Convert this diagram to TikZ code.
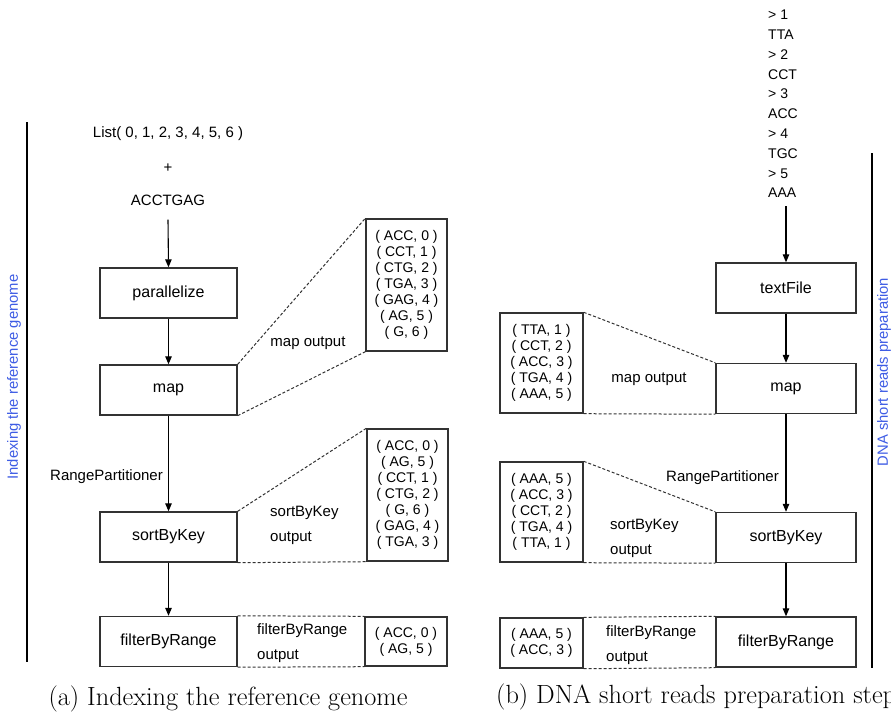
\documentclass[tikz,border=0pt]{standalone}
\usepackage{fontspec}
\newfontfamily\dia{Liberation Sans}
\usetikzlibrary{arrows.meta}
\definecolor{sideblue}{RGB}{62,92,228}
\definecolor{boxline}{RGB}{50,50,50}
\tikzset{
  stepbox/.style={draw=boxline, line width=1.4pt, minimum width=137pt, minimum height=50pt, inner sep=0pt, font=\dia\fontsize{16}{18}\selectfont},
  listbox/.style={draw=boxline, line width=1.4pt, inner sep=0pt, align=center, font=\dia\fontsize{14}{16}\selectfont},
  lbl/.style={inner sep=0pt, font=\dia\fontsize{15}{17}\selectfont},
  twolbl/.style={inner sep=0pt, align=left, anchor=west, font=\dia\fontsize{15}{24.5}\selectfont},
  arr/.style={-{Triangle[length=8pt,width=6.5pt]}, line width=1.1pt},
  dotline/.style={dash pattern=on 3pt off 2pt, line width=1pt, draw=boxline},
  side/.style={inner sep=0pt, rotate=90, text=sideblue, font=\dia\fontsize{14.8}{17}\selectfont},
  captext/.style={inner sep=0pt, font=\fontsize{26.3}{30}\selectfont}
}
\begin{document}
\begin{tikzpicture}[x=1pt,y=-1pt]
\useasboundingbox (0,0) rectangle (891,715);
% ---------- (a) ----------
\draw[line width=1.1pt] (27,122) -- (27,662);
\node[side] (sidea) at (14,377) {Indexing the reference genome};
\node[lbl] (list) at (168,134) {List( 0, 1, 2, 3, 4, 5, 6 )};
\node[lbl] (plus) at (168,168) {+};
\node[lbl] (acgt) at (168,200) {ACCTGAG};
\node[stepbox] (par) at (168.5,293) {parallelize};
\node[stepbox] (map) at (168.5,390) {map};
\node[stepbox] (sbk) at (168.5,537) {sortByKey};
\node[stepbox] (fbr) at (168.5,641.5) {filterByRange};
\node[listbox, minimum width=81pt, minimum height=132pt] (mapout) at (406.5,285)
  {( ACC, 0 )\\( CCT, 1 )\\( CTG, 2 )\\( TGA, 3 )\\( GAG, 4 )\\( AG, 5 )\\( G, 6 )};
\node[listbox, minimum width=81pt, minimum height=132pt] (sbkout) at (407.5,495)
  {( ACC, 0 )\\( AG, 5 )\\( CCT, 1 )\\( CTG, 2 )\\( G, 6 )\\( GAG, 4 )\\( TGA, 3 )};
\node[listbox, minimum width=82pt, minimum height=49pt] (fbrout) at (406,641.5)
  {( ACC, 0 )\\( AG, 5 )};
\node[lbl] (mapoutl) at (308,343) {map output};
\node[lbl, anchor=east] (rpa) at (163,477) {RangePartitioner};
\node[twolbl] (sbkl) at (270,525.5) {sortByKey\\output};
\node[twolbl] (fbrl) at (257,643) {filterByRange\\output};
\draw[arr] ([yshift=-14pt]acgt.south) -- (par.north);
\draw[arr] (par.south) -- (map.north);
\draw[arr] (map.south) -- (sbk.north);
\draw[arr] (sbk.south) -- (fbr.north);
\draw[dotline] (map.north east) -- (mapout.north west);
\draw[dotline] (map.south east) -- (mapout.south west);
\draw[dotline] (sbk.north east) -- (sbkout.north west);
\draw[dotline] (sbk.south east) -- (sbkout.south west);
\draw[dotline] (fbr.north east) -- (fbrout.north west);
\draw[dotline] (fbr.south east) -- (fbrout.south west);
\node[captext] (capa) at (228,699) {(a) Indexing the reference genome};
% ---------- (b) ----------
\draw[line width=1.1pt] (872,153) -- (872,668);
\node[side] (sideb) at (884,372) {DNA short reads preparation};
\node[inner sep=0pt, anchor=west, align=left, font=\dia\fontsize{14}{19.8}\selectfont] (fasta) at (768,104)
  {> 1\\TTA\\> 2\\CCT\\> 3\\ACC\\> 4\\TGC\\> 5\\AAA};
\node[stepbox, minimum width=140pt] (tf) at (786,288) {textFile};
\node[stepbox, minimum width=140pt] (map2) at (786,388.5) {map};
\node[stepbox, minimum width=140pt] (sbk2) at (786,537.5) {sortByKey};
\node[stepbox, minimum width=140pt] (fbr2) at (786,642) {filterByRange};
\node[listbox, minimum width=83pt, minimum height=100pt] (mapout2) at (541.5,363)
  {( TTA, 1 )\\( CCT, 2 )\\( ACC, 3 )\\( TGA, 4 )\\( AAA, 5 )};
\node[listbox, minimum width=83pt, minimum height=100pt] (sbkout2) at (541.5,512)
  {( AAA, 5 )\\( ACC, 3 )\\( CCT, 2 )\\( TGA, 4 )\\( TTA, 1 )};
\node[listbox, minimum width=83pt, minimum height=50pt] (fbrout2) at (541.5,643)
  {( AAA, 5 )\\( ACC, 3 )};
\node[lbl] (mapoutl2) at (649,379) {map output};
\node[lbl, anchor=east] (rpb) at (779,478) {RangePartitioner};
\node[twolbl] (sbkl2) at (610,538.5) {sortByKey\\output};
\node[twolbl] (fbrl2) at (606,645) {filterByRange\\output};
\draw[arr] ([yshift=-8pt]fasta.south -| tf.north) -- (tf.north);
\draw[arr] (tf.south) -- (map2.north);
\draw[arr] (map2.south) -- (sbk2.north);
\draw[arr] (sbk2.south) -- (fbr2.north);
\draw[dotline] (mapout2.north east) -- (map2.north west);
\draw[dotline] (mapout2.south east) -- (map2.south west);
\draw[dotline] (sbkout2.north east) -- (sbk2.north west);
\draw[dotline] (sbkout2.south east) -- (sbk2.south west);
\draw[dotline] (fbrout2.north east) -- (fbr2.north west);
\draw[dotline] (fbrout2.south east) -- (fbr2.south west);
\node[captext, anchor=west] (capb) at (496,697) {(b) DNA short reads preparation steps};
\end{tikzpicture}
\end{document}
